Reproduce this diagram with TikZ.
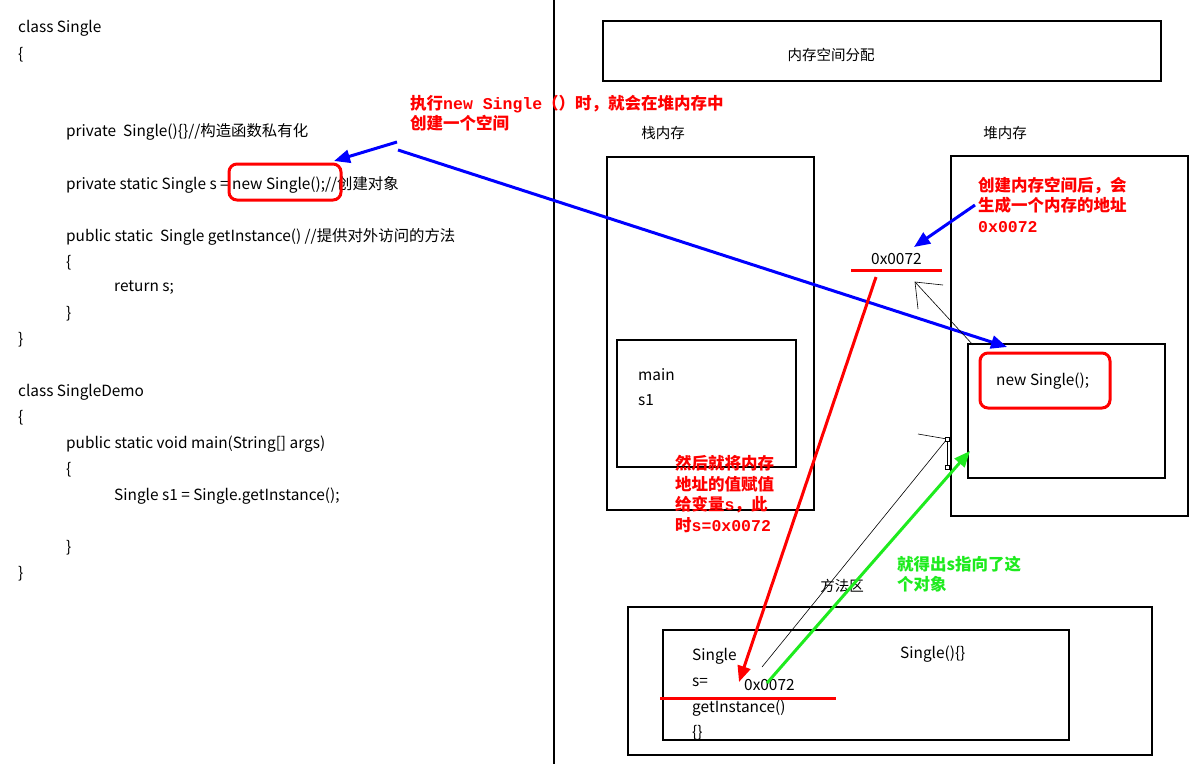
\documentclass[tikz,border=0pt]{standalone}
\usepackage{fontspec}
\setmainfont{Noto Sans CJK SC}
\setmonofont{Liberation Mono}
\usetikzlibrary{arrows.meta}
\definecolor{myred}{RGB}{255,0,0}
\definecolor{myblue}{RGB}{0,0,255}
\definecolor{mygreen}{RGB}{30,235,30}
\begin{document}
\begin{tikzpicture}[x=1pt,y=-1pt,
  code/.style={anchor=west,inner sep=0,font=\fontsize{15.4}{17}\selectfont},
  lbl/.style={anchor=center,inner sep=0,font=\fontsize{14.5}{17}\selectfont},
  boxn/.style={draw,line width=1.3pt,inner sep=0,outer sep=0},
  redbox/.style={draw=myred,line width=3pt,rounded corners=8pt,inner sep=0,outer sep=0},
  note/.style={anchor=north west,inner sep=0,align=left,font=\fontsize{16.5}{20.5}\selectfont\bfseries},
  bigarrow/.style={line width=3pt,-{Triangle[length=16pt,width=13pt]}},
  thin/.style={line width=0.6pt}
]
\useasboundingbox (0,0) rectangle (1198,764);
\fill[white] (0,0) rectangle (1198,764);

% divider
\coordinate (dtop) at (554,0);
\coordinate (dbot) at (554,764);
\draw[line width=1.3pt] (dtop) -- (dbot);

% left code
\node[code] (c1) at (18,28) {class Single};
\node[code] (c2) at (18,55) {\{};
\node[code] (c3) at (66,132) {private\ \ Single()\{\}//构造函数私有化};
\node[code] (c4) at (66,185) {private static Single s = new Single();//创建对象};
\node[code] (c5) at (66,237) {public static\ \ Single getInstance() //提供对外访问的方法};
\node[code] (c6) at (66,263) {\{};
\node[code] (c7) at (114,288) {return s;};
\node[code] (c8) at (66,314) {\}};
\node[code] (c9) at (18,340) {\}};
\node[code] (d1) at (18,392) {class SingleDemo};
\node[code] (d2) at (18,418) {\{};
\node[code] (d3) at (66,444) {public static void main(String[] args)};
\node[code] (d4) at (66,470) {\{};
\node[code] (d5) at (114,496) {Single s1 = Single.getInstance();};
\node[code] (d6) at (66,548) {\}};
\node[code] (d7) at (18,574) {\}};

\node[redbox,minimum width=112pt,minimum height=36pt] (newcode) at (285,182) {};

% right side boxes
\node[boxn,minimum width=558pt,minimum height=60pt] (top) at (882,51) {};
\node[lbl] (toplbl) at (831,55) {内存空间分配};
\node[lbl] (stacklbl) at (663,133) {栈内存};
\node[lbl] (heaplbl) at (1005,133) {堆内存};
\node[boxn,minimum width=207pt,minimum height=353pt] (stack) at (710.5,333.5) {};
\node[boxn,minimum width=179pt,minimum height=127pt] (mainbox) at (706.5,403.5) {};
\node[code] (mainlbl) at (638,375) {main};
\node[code] (s1lbl) at (638,400) {s1};
\node[boxn,minimum width=237pt,minimum height=360pt] (heap) at (1069.5,336) {};
\node[boxn,minimum width=197pt,minimum height=134pt] (heapin) at (1066.5,411) {};
\node[redbox,minimum width=130pt,minimum height=55pt] (newobj) at (1045,380.5) {};
\node[code] (newobjlbl) at (996,381) {new Single();};

\node[lbl] (methodlbl) at (842,586) {方法区};
\node[boxn,minimum width=524pt,minimum height=148pt] (method) at (890,681) {};
\node[boxn,minimum width=406pt,minimum height=110pt] (methodin) at (866,685) {};
\node[code] (m1) at (692,656) {Single};
\node[code] (m2) at (900,654) {Single()\{\}};
\node[code] (m3) at (692,682) {s=};
\node[code] (m4) at (744,685) {0x0072};
\node[code] (m5) at (692,708) {getInstance()};
\node[code] (m6) at (692,733) {\{\}};

% address
\node[code] (addr) at (871,259) {0x0072};
\coordinate (ul1) at (851,270);
\coordinate (ul2) at (942,270);
\draw[myred,line width=3pt] (ul1) -- (ul2);
\coordinate (ml1) at (660,698);
\coordinate (ml2) at (836,698);
\draw[myred,line width=3pt] (ml1) -- (ml2);

% notes
\node[note,text=myred] (note1) at (410,95) {执行{\ttfamily new Single}（）时，就会在堆内存中\\创建一个空间};
\node[note,text=myred] (note2) at (978,177) {创建内存空间后，会\\生成一个内存的地址\\{\ttfamily 0x0072}};
\node[note,text=myred] (note3) at (675,455) {然后就将内存\\地址的值赋值\\给变量{\ttfamily s}，此\\时{\ttfamily s=0x0072}};
\node[note,text=mygreen] (note4) at (897,556) {就得出s指向了这\\个对象};

% blue arrows
\coordinate (b1s) at (397,142);
\coordinate (b1e) at (334,161);
\draw[bigarrow,myblue] (b1s) -- (b1e);
\coordinate (b2s) at (398,150);
\coordinate (b2e) at (1007,347);
\draw[bigarrow,myblue] (b2s) -- (b2e);
\coordinate (b3s) at (975,205);
\coordinate (b3e) at (914,247);
\draw[bigarrow,myblue] (b3s) -- (b3e);

% red arrow
\coordinate (r1s) at (876,277);
\coordinate (r1e) at (739,682);
\draw[bigarrow,myred] (r1s) -- (r1e);

% green arrow
\coordinate (g1s) at (767,683);
\coordinate (g1e) at (970,451);
\draw[bigarrow,mygreen] (g1s) -- (g1e);

% thin black arrow (open head)
\coordinate (t1s) at (973,345);
\coordinate (t1e) at (915,282);
\coordinate (t1a) at (943,285);
\coordinate (t1b) at (918,309);
\draw[thin] (t1s) -- (t1e);
\draw[thin] (t1a) -- (t1e) -- (t1b);

% thin line with handles
\coordinate (h0) at (918,434);
\coordinate (h1) at (947,439);
\coordinate (h2) at (947,467);
\coordinate (h3) at (762,667);
\draw[thin] (h0) -- (h1) -- (h3);
\draw[thin] (h1) -- (h2);
\node[draw,fill=white,thin,inner sep=0,minimum size=4pt] (hq1) at (h1) {};
\node[draw,fill=white,thin,inner sep=0,minimum size=4pt] (hq2) at (h2) {};
\end{tikzpicture}
\end{document}
